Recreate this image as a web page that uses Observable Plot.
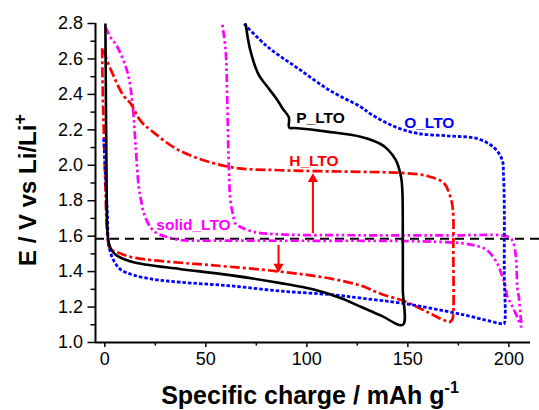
<!DOCTYPE html>
<html><head><meta charset="utf-8">
<script src="https://cdn.jsdelivr.net/npm/d3@7"></script>
<script src="https://cdn.jsdelivr.net/npm/@observablehq/plot@0.6"></script>
<style>body{margin:0;background:#fff}</style>
</head><body><div id="chart"></div>
<script>
// P_LTO (black, solid): discharge then charge
const pX = [0.3, 0.6, 0.9, 1.2, 2.0, 3.5, 6, 12, 20, 37, 62, 87, 103, 117, 127, 137, 147.5,
            147.5, 147.5, 147.3, 146.7, 144, 140, 136.5, 127, 110, 94, 91.3, 91.1, 88, 85.3, 80, 76.2, 72, 69.7];
const pY = [2.80, 2.30, 1.90, 1.65, 1.56, 1.52, 1.49, 1.46, 1.44, 1.415, 1.38, 1.335, 1.30, 1.25, 1.20, 1.15, 1.10,
            1.30, 1.60, 1.85, 1.93, 2.03, 2.09, 2.12, 2.16, 2.19, 2.21, 2.212, 2.27, 2.32, 2.37, 2.45, 2.51, 2.65, 2.80];
// O_LTO (blue, dotted)
const oX = [-0.5, 0.3, 1.2, 1.7, 2.5, 4.5, 8, 14.4, 25, 37.5, 62, 87, 112, 127, 148, 176, 196.7,
            197.6, 197.7, 197.7, 197.3, 196.7, 192.6, 184.4, 171, 154.6, 143, 131.5, 126.6, 111.7, 95.2, 80.4, 68.8];
const oY = [2.15, 1.95, 1.75, 1.58, 1.52, 1.46, 1.41, 1.38, 1.355, 1.34, 1.32, 1.29, 1.27, 1.25, 1.22, 1.16, 1.105,
            1.105, 1.40, 1.80, 1.95, 2.03, 2.10, 2.15, 2.165, 2.18, 2.22, 2.29, 2.33, 2.42, 2.55, 2.67, 2.80];
// H_LTO (red, dash-dot)
const hX = [-1.3, -1.0, -0.5, 0.3, 0.8, 1.5, 2.5, 6, 14, 37.5, 54, 87, 112, 127, 136.5, 149, 160, 168, 170.3, 172, 172.5,
            172.5, 172.3, 171.1, 167.8, 159.6, 146.4, 126.6, 87, 62.2, 37.5, 22.6, 17.7, 12.7, 9.4, 4.5, 0.3, -0.5];
const hY = [2.66, 2.40, 2.20, 1.88, 1.70, 1.58, 1.53, 1.51, 1.48, 1.45, 1.435, 1.40, 1.36, 1.32, 1.275, 1.23, 1.17, 1.125, 1.115, 1.13, 1.17,
            1.50, 1.75, 1.82, 1.90, 1.94, 1.957, 1.963, 1.972, 1.99, 2.08, 2.20, 2.25, 2.35, 2.39, 2.50, 2.62, 2.67];
// solid_LTO (magenta, dash-dot-dot)
const sX = [0.3, 3, 6.1, 11.1, 13.6, 15.2, 16.8, 18, 19.3, 22.6, 26, 30.9, 37.5, 60, 100, 150, 176, 184, 189.3, 194.3, 196.5, 198, 199.2, 201, 203.5, 206.2,
            205.8, 205, 204.2, 203.8, 203.3, 202, 200, 196, 176, 126.6, 87, 73.8, 67.2, 64.7, 63.5, 62.2, 61.4, 60.6, 59.8, 58.1];
const sY = [2.78, 2.72, 2.67, 2.53, 2.36, 2.12, 1.88, 1.80, 1.73, 1.65, 1.615, 1.595, 1.578, 1.575, 1.574, 1.572, 1.561, 1.545, 1.52, 1.445, 1.38, 1.33, 1.26, 1.22, 1.16, 1.09,
            1.15, 1.25, 1.31, 1.42, 1.50, 1.57, 1.595, 1.605, 1.605, 1.605, 1.61, 1.624, 1.652, 1.67, 1.72, 1.80, 1.99, 2.37, 2.65, 2.80];

const refY = [1.585];
const seriesLabels = ["P_LTO", "O_LTO", "H_LTO", "solid_LTO"];
const labelX = [106.8, 160.6, 103.5, 43.9];
const labelY = [2.266, 2.24, 2.023, 1.661];
const labelColors = ["#000000", "#0000ff", "#ff0000", "#ff00ff"];
const arrowX = [103, 86];
const arrowFrom = [1.614, 1.548];
const arrowTo = [1.953, 1.397];

const xMajor = [0, 50, 100, 150, 200];
const xMinor = [25, 75, 125, 175];
const yMajor = [1.0, 1.2, 1.4, 1.6, 1.8, 2.0, 2.2, 2.4, 2.6, 2.8];
const yMinor = [1.1, 1.3, 1.5, 1.7, 1.9, 2.1, 2.3, 2.5, 2.7];
const xDomain = [-4.6, 210.7];
const yDomain = [1.0, 2.8];

const rows = (xs, ys) => xs.map((x, i) => ({x, y: ys[i]}));
const labels = seriesLabels.map((t, i) => ({t, x: labelX[i], y: labelY[i], c: labelColors[i]}));
const headOff = 0.031;
const arrows = arrowX.map((x, i) => {
  const up = arrowTo[i] > arrowFrom[i];
  const base = up ? arrowTo[i] - headOff : arrowTo[i] + headOff;
  return {x, y1: arrowFrom[i], y2: base, rot: up ? 0 : 180};
});

const lineOpts = {x: "x", y: "y", curve: "catmull-rom", strokeLinecap: "butt", strokeLinejoin: "round"};

const chart = Plot.plot({
  width: 539, height: 410,
  marginLeft: 95, marginRight: 9, marginTop: 23, marginBottom: 68,
  style: {fontFamily: "'Liberation Sans', Arial, sans-serif", fontSize: "18px", color: "#000", background: "#fff"},
  x: {domain: xDomain},
  y: {domain: yDomain},
  marks: [
    Plot.axisX({ticks: xMajor, tickSize: 5, tickPadding: 5, label: null, strokeWidth: 1.5}),
    Plot.axisX({ticks: xMinor, tickSize: 3.5, tickFormat: () => "", label: null, strokeWidth: 1.5}),
    Plot.axisY({ticks: yMajor, tickSize: 7.5, tickPadding: 5, tickFormat: d3.format(".1f"), label: null, strokeWidth: 1.5}),
    Plot.axisY({ticks: yMinor, tickSize: 4.5, tickFormat: () => "", label: null, strokeWidth: 1.5}),
    Plot.ruleX([xDomain[0]], {stroke: "#000", strokeWidth: 2}),
    Plot.ruleY([yDomain[0]], {stroke: "#000", strokeWidth: 2}),
    Plot.ruleY(refY, {x1: xDomain[0], x2: 216, stroke: "#000", strokeWidth: 2, strokeDasharray: "9,6", strokeLinecap: "butt"}),
    Plot.line(rows(sX, sY), {...lineOpts, stroke: "#ff00ff", strokeWidth: 2.7, strokeDasharray: "8,3,2.5,3,2.5,3"}),
    Plot.line(rows(hX, hY), {...lineOpts, stroke: "#ff0000", strokeWidth: 2.7, strokeDasharray: "10,3,3,3"}),
    Plot.line(rows(oX, oY), {...lineOpts, stroke: "#0000ff", strokeWidth: 2.8, strokeDasharray: "3.5,2"}),
    Plot.line(rows(pX, pY), {...lineOpts, stroke: "#000000", strokeWidth: 2.6}),
    Plot.ruleX(arrows, {x: "x", y1: "y1", y2: "y2", stroke: "#ff0000", strokeWidth: 2}),
    Plot.dot(arrows, {x: "x", y: "y2", symbol: "triangle", r: 3.8, fill: "#ff0000", stroke: "none", rotate: "rot"}),
    Plot.text(labels, {x: "x", y: "y", text: "t", fill: "c", fontSize: 15.5, fontWeight: "bold"})
  ]
});

const svg = d3.select(chart);
const yl = svg.append("text")
  .attr("transform", "translate(36,190) rotate(-90)")
  .attr("text-anchor", "middle")
  .attr("font-size", 24).attr("font-weight", "bold").attr("fill", "#000");
yl.append("tspan").text("E / V vs Li/Li");
yl.append("tspan").attr("dy", -10).attr("font-size", 18).text("+");

const xl = svg.append("text")
  .attr("x", 310).attr("y", 404)
  .attr("text-anchor", "middle")
  .attr("font-size", 25).attr("font-weight", "bold").attr("fill", "#000");
xl.append("tspan").text("Specific charge / mAh g");
xl.append("tspan").attr("dy", -11).attr("font-size", 16).text("-1");

document.getElementById("chart").append(chart);
</script>
</body></html>
